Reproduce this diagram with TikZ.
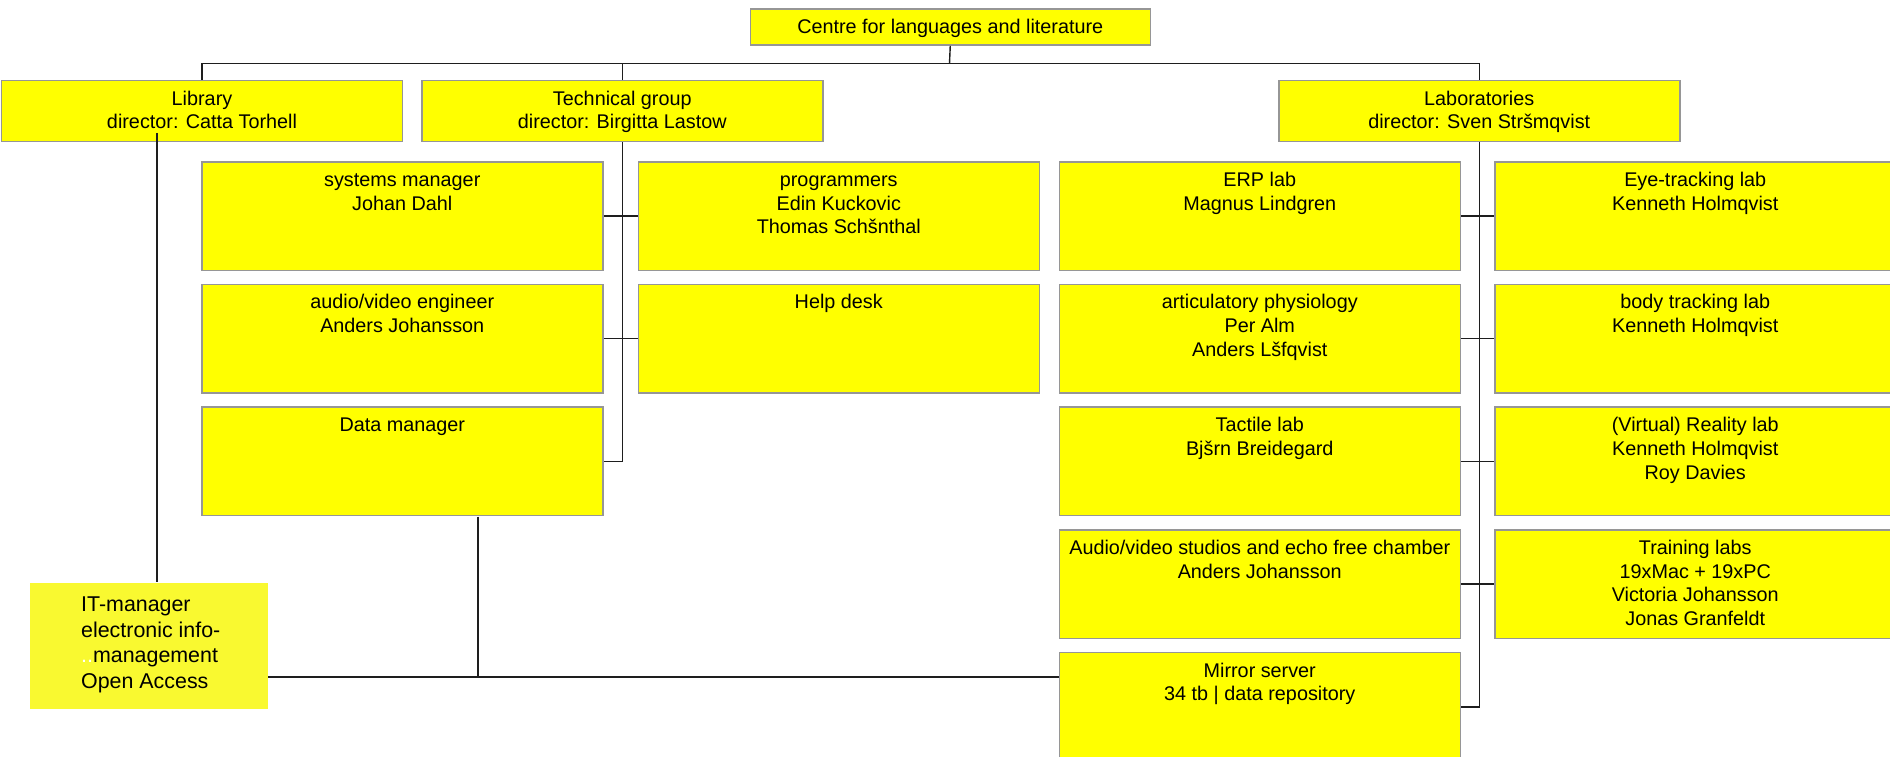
\documentclass[tikz,border=0pt]{standalone}
\usepackage{fontspec}
\setmainfont{Liberation Sans}
\definecolor{boxyellow}{RGB}{255,255,0}
\definecolor{ityellow}{RGB}{249,249,48}
\definecolor{boxborder}{RGB}{150,150,150}
\definecolor{conn}{RGB}{30,30,30}
\newcommand\firstrule{\rule{0pt}{16pt}}
\newcommand\mkbox[5]{%
  \node[#2] (#1) at (#3,#4) {};
  \node[boxtext] (#1-t) at ([yshift=-9pt]#1.north) {\firstrule#5};
}
\begin{document}
\begin{tikzpicture}[x=1pt,y=-1pt,
  orgbox/.style={draw=boxborder, line width=1.5pt, fill=boxyellow, anchor=north west,
    inner sep=0pt, minimum width=401pt, minimum height=108.5pt},
  headbox/.style={orgbox, minimum height=61pt},
  topbox/.style={orgbox, minimum width=400pt, minimum height=36pt},
  boxtext/.style={anchor=north, inner sep=0pt, align=center,
    font=\fontsize{19.8}{23.8}\selectfont},
  link/.style={draw=conn, line width=1.4pt}]
\useasboundingbox (0,0) rectangle (1890,757);
\fill[white] (0,0) rectangle (1890,757);
\clip (0,0) rectangle (1890,757);

% top level
\mkbox{centre}{topbox}{749.5}{8.3}{Centre for languages and literature}
\mkbox{lib}{headbox}{0.75}{80}{Library\\director: Catta Torhell}
\mkbox{tech}{headbox}{421}{80}{Technical group\\director: Birgitta Lastow}
\mkbox{labs}{headbox}{1278}{80}{Laboratories\\director: Sven Stršmqvist}

% technical group
\mkbox{sysman}{orgbox}{201}{161}{systems manager\\Johan Dahl}
\mkbox{prog}{orgbox}{637.5}{161}{programmers\\Edin Kuckovic\\Thomas Schšnthal}
\mkbox{av}{orgbox}{201}{283.7}{audio/video engineer\\Anders Johansson}
\mkbox{help}{orgbox}{637.5}{283.7}{Help desk}
\mkbox{data}{orgbox}{201}{406.4}{Data manager}

% laboratories
\mkbox{erp}{orgbox}{1058.5}{161}{ERP lab\\Magnus Lindgren}
\mkbox{eye}{orgbox}{1494}{161}{Eye-tracking lab\\Kenneth Holmqvist}
\mkbox{artic}{orgbox}{1058.5}{283.7}{articulatory physiology\\Per Alm\\Anders Lšfqvist}
\mkbox{body}{orgbox}{1494}{283.7}{body tracking lab\\Kenneth Holmqvist}
\mkbox{tactile}{orgbox}{1058.5}{406.4}{Tactile lab\\Bjšrn Breidegard}
\mkbox{virtual}{orgbox}{1494}{406.4}{(Virtual) Reality lab\\Kenneth Holmqvist\\Roy Davies}
\mkbox{studios}{orgbox}{1058.5}{529.1}{Audio/video studios and echo free chamber\\Anders Johansson}
\mkbox{training}{orgbox}{1494}{529.1}{Training labs\\19xMac + 19xPC\\Victoria Johansson\\Jonas Granfeldt}
\mkbox{mirror}{orgbox}{1058.5}{651.8}{Mirror server\\34 tb | data repository}

% IT manager
\node[fill=ityellow, anchor=north west, inner sep=0pt, minimum width=238pt,
  minimum height=126.5pt] (it) at (30,582.3) {};
\node[anchor=north west, inner sep=0pt, align=left,
  font=\fontsize{21.4}{25.5}\selectfont] (it-t) at (81,594.5)
  {\rule{0pt}{17.2pt}IT-manager\\electronic info-\\{\color{white}..}management\\Open Access};

% connectors
\coordinate (bus) at (949.5,63.5);
\coordinate (libdrop) at (157,133);
\coordinate (dmdrop) at (478,516.5);
\coordinate (itj) at (268,677);

\draw[link] (centre.south) -- (bus);
\draw[link] (lib.north) -- (lib.north |- bus) -- (labs.north |- bus) -- (labs.north);
\draw[link] (tech.north) -- (tech.north |- bus);

\draw[link] (tech.south) -- (tech.south |- data.east) -- (data.east);
\draw[link] (sysman.east) -- (prog.west);
\draw[link] (av.east) -- (help.west);

\draw[link] (labs.south) -- (labs.south |- mirror.east) -- (mirror.east);
\draw[link] (erp.east) -- (eye.west);
\draw[link] (artic.east) -- (body.west);
\draw[link] (tactile.east) -- (virtual.west);
\draw[link] (studios.east) -- (training.west);

\draw[link] (libdrop) -- (libdrop |- it.north);
\draw[link] (itj) -- (itj -| mirror.west);
\draw[link] (dmdrop) -- (dmdrop |- itj);
\end{tikzpicture}
\end{document}
